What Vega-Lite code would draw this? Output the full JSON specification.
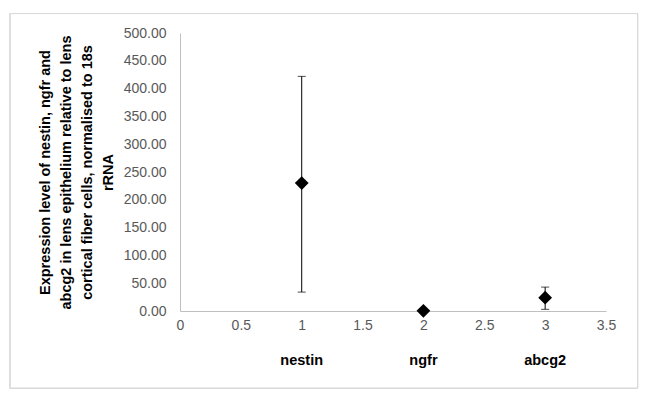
{
  "$schema": "https://vega.github.io/schema/vega-lite/v6.json",
  "autosize": {"type": "none"},
  "width": 426,
  "height": 278,
  "padding": {"left": 180, "top": 33, "right": 45, "bottom": 90},
  "background": "white",
  "config": {
    "view": {"stroke": null},
    "font": "Liberation Sans",
    "axis": {"labelOverlap": false}
  },
  "data": {
    "values": [
      {"x": 1, "gene": "nestin", "mean": 230, "lo": 34, "hi": 422},
      {"x": 2, "gene": "ngfr", "mean": 0.4, "lo": 0.4, "hi": 0.4},
      {"x": 3, "gene": "abcg2", "mean": 24, "lo": 3, "hi": 43}
    ]
  },
  "encoding": {
    "x": {
      "field": "x", "type": "quantitative",
      "scale": {"domain": [0, 3.5], "nice": false, "zero": false},
      "axis": {
        "title": null, "values": [0, 0.5, 1, 1.5, 2, 2.5, 3, 3.5],
        "format": "~g", "labelOverlap": false,
        "grid": false, "ticks": false, "domainColor": "#bfbfbf",
        "labelColor": "#595959", "labelFontSize": 14, "labelPadding": 7,
        "labelFont": "Liberation Sans", "labelFlush": false
      }
    },
    "y": {
      "field": "lo", "type": "quantitative",
      "scale": {"domain": [0, 500], "nice": false},
      "axis": {
        "values": [0, 50, 100, 150, 200, 250, 300, 350, 400, 450, 500],
        "format": ".2f", "grid": false, "ticks": false, "labelOverlap": false,
        "domainColor": "#bfbfbf", "labelColor": "#595959",
        "labelFontSize": 14, "labelPadding": 14, "labelFont": "Liberation Sans",
        "title": [
          "Expression level of nestin, ngfr and",
          "abcg2 in lens epithelium relative to lens",
          "cortical fiber cells, normalised to 18s",
          "rRNA"
        ],
        "titleFontSize": 14.5, "titleFontWeight": "bold", "titleColor": "#000000",
        "titleLineHeight": 21, "titlePadding": 8, "titleFont": "Liberation Sans"
      }
    }
  },
  "layer": [
    {
      "mark": {"type": "rule", "color": "#000000", "strokeWidth": 1},
      "encoding": {
        "y2": {"field": "hi"}
      }
    },
    {
      "mark": {"type": "tick", "orient": "horizontal", "color": "#000000", "size": 8, "thickness": 1},
      "encoding": {}
    },
    {
      "mark": {"type": "tick", "orient": "horizontal", "color": "#000000", "size": 8, "thickness": 1},
      "encoding": {
        "y": {"field": "hi", "type": "quantitative"}
      }
    },
    {
      "mark": {"type": "point", "shape": "diamond", "filled": true, "color": "#000000", "size": 190, "opacity": 1, "clip": false},
      "encoding": {
        "y": {"field": "mean", "type": "quantitative"}
      }
    },
    {
      "mark": {"type": "text", "fontWeight": "bold", "fontSize": 14.5, "color": "#000000", "baseline": "middle", "align": "center"},
      "encoding": {
        "y": {"datum": -90, "type": "quantitative"},
        "text": {"field": "gene"}
      }
    },
    {
      "mark": {"type": "rect", "fill": null, "stroke": "#d9d9d9", "strokeWidth": 1, "clip": false},
      "encoding": {
        "x": {"datum": -1.397, "type": "quantitative"},
        "x2": {"datum": 3.76},
        "y": {"datum": 535, "type": "quantitative"},
        "y2": {"datum": -139}
      }
    }
  ]
}
